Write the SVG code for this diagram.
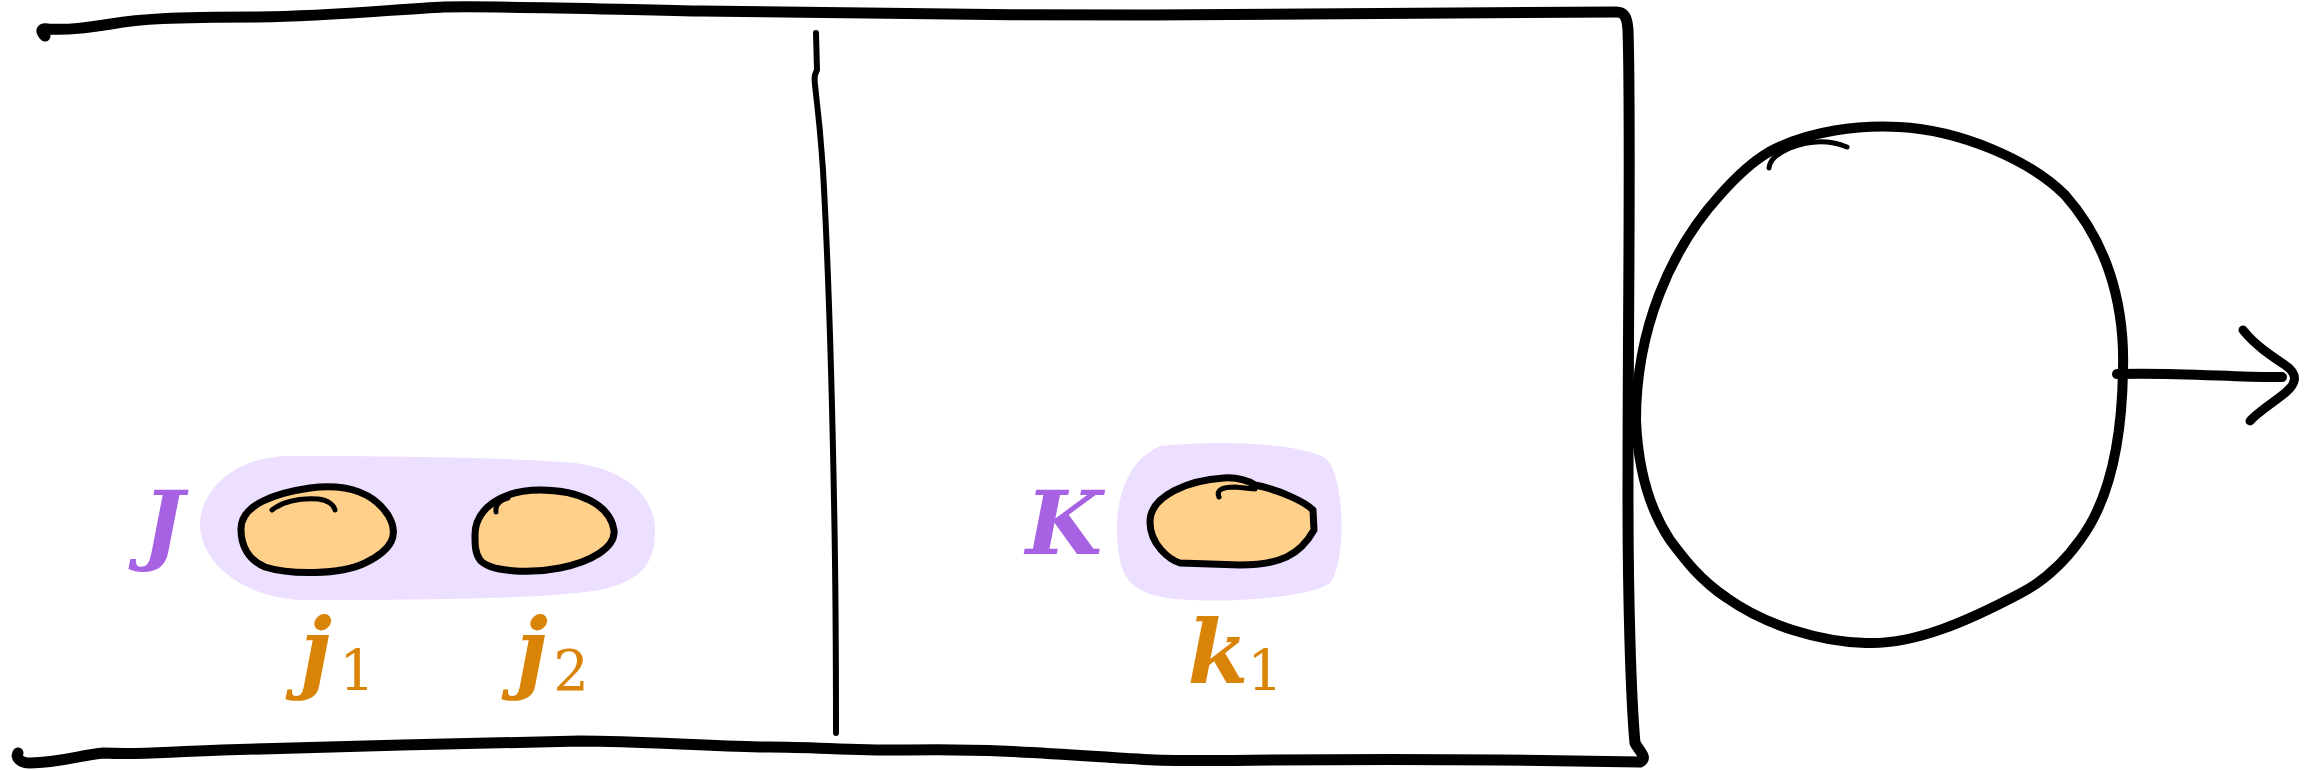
<svg xmlns="http://www.w3.org/2000/svg" width="2305" height="770" viewBox="0 0 2305 770">
<style>
.ink{fill:none;stroke:#000;stroke-linecap:round;stroke-linejoin:round}
.set{fill:#ecdfff;stroke:none}
.blob{fill:#fed08a;stroke:#000;stroke-width:7;stroke-linejoin:round}
.tick{fill:none;stroke:#000;stroke-width:5;stroke-linecap:round}
.setlbl{font-family:"DejaVu Serif",serif;font-style:italic;font-weight:bold;font-size:88px;fill:#a762e4}
.el{font-family:"DejaVu Serif",serif;font-style:italic;font-weight:bold;font-size:88px;fill:#d98407}
.sub{font-family:"DejaVu Serif",serif;font-size:56px;fill:#d98407}
</style>
<rect width="2305" height="770" fill="#fff"/>
<g id="frame">
<path class="ink" stroke-width="11" d="M45,36 C40,31 41,28 48,29 C70,30 85,28 111,24 C140,19 170,17 259,17 C330,16 400,9 444,7 C500,6 560,8 700,11 C900,14 1000,15 1150,15 C1350,15 1500,12 1616,12 C1624,12 1627,16 1628,30 C1631,120 1628,300 1628,500 C1628,600 1631,700 1635,743 C1640,752 1648,758 1640,762 L1500,760 C1300,758 1200,762 1155,760 C1080,756 1000,748 908,750 C860,751 800,746 760,747 C700,746 640,741 580,741 C500,742 300,748 222,750 C160,752 140,755 104,753 C80,755 60,763 30,763 C20,763 15,757 18,753"/>
</g>
<g id="divider">
<path class="ink" stroke-width="6" d="M816,33 L817,70 C815,74 814,76 815,85 C818,110 821,140 823,170 C828,260 832,390 834,500 C836,600 836,680 836,733"/>
</g>
<g id="set-J">
<path class="set" d="M290,456 C400,456 520,458 575,463 C630,470 655,500 655,530 C655,560 645,580 600,590 C540,600 400,600 303,600 C240,598 200,560 200,525 C200,490 235,456 290,456 Z"/>
<text class="setlbl" x="163" y="554" text-anchor="middle">J</text>
</g>
<g id="elem-j1">
<path class="blob" d="M241,530 C240,505 275,493 310,488 C350,483 375,495 388,515 C400,535 392,550 365,563 C340,575 290,575 265,567 C248,560 241,545 241,530 Z"/>
<path class="tick" d="M272,510 C285,500 300,498 318,499 C328,500 334,505 335,510"/>
<text class="el" x="316" y="681" text-anchor="middle">j</text>
<text class="sub" x="357" y="690" text-anchor="middle">1</text>
</g>
<g id="elem-j2">
<path class="blob" d="M475,535 C475,510 500,490 540,490 C580,490 610,505 614,530 C616,548 590,562 560,568 C530,574 490,572 480,560 C475,553 475,545 475,535 Z"/>
<path class="tick" d="M496,512 C495,505 500,500 508,498"/>
<text class="el" x="532" y="681" text-anchor="middle">j</text>
<text class="sub" x="571" y="690" text-anchor="middle">2</text>
</g>
<g id="set-K">
<path class="set" d="M1160,446 C1220,440 1300,443 1325,458 C1344,470 1348,560 1330,583 C1310,598 1230,602 1190,600 C1150,598 1125,590 1120,560 C1112,520 1118,465 1160,446 Z"/>
<text class="setlbl" x="1064" y="554" text-anchor="middle">K</text>
</g>
<g id="elem-k1">
<path class="blob" d="M1150,522 C1150,495 1190,480 1224,478 C1240,477 1250,482 1255,485 C1280,490 1305,502 1313,510 L1314,530 C1300,555 1280,565 1240,565 L1180,563 C1170,560 1150,545 1150,522 Z"/>
<path class="tick" d="M1219,497 C1216,490 1222,487 1235,487 L1255,489"/>
<text class="el" x="1218" y="683" text-anchor="middle">k</text>
<text class="sub" x="1265" y="690" text-anchor="middle">1</text>
</g>
<g id="connectors">
<path class="ink" stroke-width="10" d="M1769,152 C1810,130 1860,125 1899,127 C1960,130 2030,160 2065,195 C2105,240 2125,300 2123,370 C2122,440 2110,500 2080,540 C2060,568 2040,583 2021,593 C1970,620 1915,645 1866,643 C1820,642 1765,625 1727,598 C1700,580 1685,560 1670,540 C1650,510 1638,470 1636,420 C1636,330 1670,250 1720,195 C1735,178 1750,163 1769,152"/>
<path class="tick" d="M1769,168 C1770,160 1775,155 1790,148 C1805,142 1825,138 1847,147"/>
<path class="ink" stroke-width="10" d="M2117,374 C2180,372 2240,378 2282,377"/>
<path class="ink" stroke-width="9" d="M2243,330 C2255,345 2270,355 2285,365 C2300,375 2295,385 2285,393 C2270,405 2258,412 2250,421"/>
</g>
</svg>
